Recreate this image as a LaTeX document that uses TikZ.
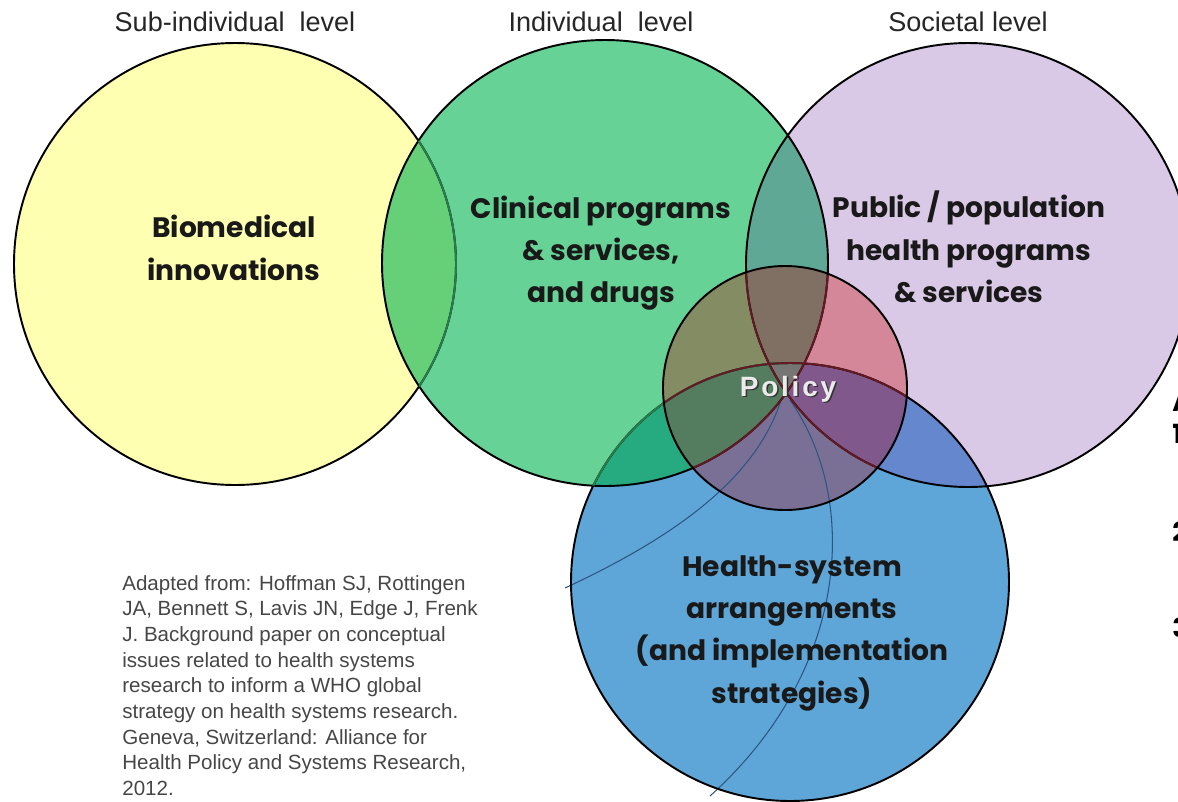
\documentclass[tikz,border=0pt]{standalone}
\usepackage{fontspec}
\setmainfont{Liberation Sans}
\newfontfamily\gfont{Poppins}
\newfontfamily\polfont[LetterSpace=10]{Liberation Sans}

\definecolor{yel}{RGB}{255,255,178}
\definecolor{grn}{RGB}{102,210,150}
\definecolor{pur}{RGB}{218,201,230}
\definecolor{blu}{RGB}{94,166,216}
\definecolor{yg}{RGB}{102,208,120}
\definecolor{gp}{RGB}{96,168,150}
\definecolor{gb}{RGB}{38,170,128}
\definecolor{pb}{RGB}{100,135,205}
\definecolor{polg}{RGB}{132,140,100}
\definecolor{polp}{RGB}{212,135,152}
\definecolor{polb}{RGB}{122,112,150}
\definecolor{polgp}{RGB}{128,112,100}
\definecolor{polgb}{RGB}{84,125,96}
\definecolor{polpb}{RGB}{128,88,140}
\definecolor{polall}{RGB}{118,118,116}
\definecolor{edgeg}{RGB}{40,125,75}
\definecolor{edger}{RGB}{100,25,35}
\definecolor{thinb}{RGB}{45,85,130}
\definecolor{citec}{RGB}{70,70,70}

\begin{document}
\begin{tikzpicture}[x=0.02cm,y=-0.02cm]
    \tikzstyle{ttl} = [font=\fontsize{15.4}{17}\selectfont,
    text=black!85];
    \tikzstyle{lbl} = [font=\gfont\bfseries\fontsize{16}{24.1}\selectfont,
    align=center, text=black!90];
    \tikzstyle{pf} = [font=\polfont\bfseries\fontsize{15.9}{18}\selectfont];
    \tikzstyle{cite} = [font=\fontsize{11.7}{14.6}\selectfont,
    align=left, text=citec, inner sep=0pt];
    \tikzstyle{frag} = [font=\gfont\bfseries\fontsize{15}{18}\selectfont,
    anchor=west, inner sep=0pt];
    \tikzstyle{ol} = [draw=black, line width=1.1pt];
    \tikzstyle{fine} = [draw=thinb, line width=0.6pt];

    \useasboundingbox (0,0) rectangle (1178,802);
    \clip (0,0) rectangle (1178,802);

    \def\rYel{221}
    \def\rGrn{223}
    \def\rPur{222}
    \def\rBlu{219}
    \def\rPol{122}

    \coordinate (sub) at (235,264);
    \coordinate (ind) at (605,263);
    \coordinate (soc) at (968,265);
    \coordinate (hsa) at (790,582);
    \coordinate (pol) at (785,388);

    % circles and their overlaps
    \fill[yel] (sub) circle (\rYel);
    \fill[grn] (ind) circle (\rGrn);
    \fill[pur] (soc) circle (\rPur);
    \fill[blu] (hsa) circle (\rBlu);
    \begin{scope}
      \clip (sub) circle (\rYel);
      \fill[yg] (ind) circle (\rGrn);
    \end{scope}
    \begin{scope}
      \clip (ind) circle (\rGrn);
      \fill[gp] (soc) circle (\rPur);
      \fill[gb] (hsa) circle (\rBlu);
    \end{scope}
    \begin{scope}
      \clip (soc) circle (\rPur);
      \fill[pb] (hsa) circle (\rBlu);
    \end{scope}

    % policy circle
    \begin{scope}
      \clip (pol) circle (\rPol);
      \fill[polg] (ind) circle (\rGrn);
      \fill[polp] (soc) circle (\rPur);
      \fill[polb] (hsa) circle (\rBlu);
      \begin{scope}
        \clip (soc) circle (\rPur);
        \fill[polpb] (hsa) circle (\rBlu);
      \end{scope}
      \begin{scope}
        \clip (ind) circle (\rGrn);
        \fill[polgp] (soc) circle (\rPur);
        \fill[polgb] (hsa) circle (\rBlu);
        \clip (soc) circle (\rPur);
        \fill[polall] (hsa) circle (\rBlu);
      \end{scope}
    \end{scope}

    \coordinate (a0) at (782,397);
    \coordinate (a1) at (565,588);
    \coordinate (b0) at (790,400);
    \coordinate (b1) at (710,796);
    \draw[fine] (a0) .. controls (760,470) and (690,530) .. (a1);
    \draw[fine] (b0) .. controls (860,500) and (850,670) .. (b1);

    \draw[ol] (sub) circle (\rYel) (ind) circle (\rGrn)
              (soc) circle (\rPur) (hsa) circle (\rBlu);
    \begin{scope}
      \clip (ind) circle (\rGrn);
      \draw[ol, draw=edgeg] (sub) circle (\rYel) (hsa) circle (\rBlu);
    \end{scope}
    \begin{scope}
      \clip (pol) circle (\rPol);
      \draw[ol, draw=edger] (ind) circle (\rGrn) (soc) circle (\rPur)
                            (hsa) circle (\rBlu);
    \end{scope}
    \draw[ol] (pol) circle (\rPol);

    % texts
    \node[ttl] (t1) at (235,22) {Sub-individual\ \ level};
    \node[ttl] (t2) at (601,22) {Individual\ \ level};
    \node[ttl] (t3) at (968,22) {Societal level};

    \node[lbl] (l1) at (234,248) {Biomedical\\innovations};
    \node[lbl] (l2) at (601,253) {Clinical programs\\\& services,\\and drugs};
    \node[lbl] (l3) at (969,247) {Public / population\\health programs\\\& services};
    \node[lbl] (l4) at (792,633) {Health-system\\arrangements\\(and implementation\\strategies)};

    \node[pf, text=black!80] (ps) at (789.5,390.5) {Policy};
    \node[pf, text=black!8] (p) at (788,389) {Policy};

    \node[cite, anchor=north west] (src) at (122,575) {Adapted from: Hoffman SJ, Rottingen\\
    JA, Bennett S, Lavis JN, Edge J, Frenk\\
    J. Background paper on conceptual\\
    issues related to health systems\\
    research to inform a WHO global\\
    strategy on health systems research.\\
    Geneva, Switzerland: Alliance for\\
    Health Policy and Systems Research,\\
    2012.};

    \node[frag] (fa) at (1172,402) {A};
    \node[frag] (f1) at (1172,434) {1};
    \node[frag] (f2) at (1172,532) {2};
    \node[frag] (f3) at (1172,628) {3};

\end{tikzpicture}
\end{document}
